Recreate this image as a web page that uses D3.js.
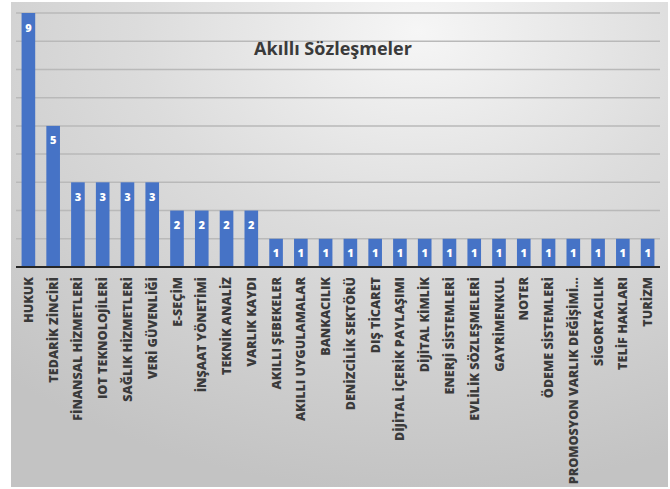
<!DOCTYPE html>
<html>
<head>
<meta charset="utf-8">
<script src="https://cdn.jsdelivr.net/npm/d3@7"></script>
<style>
  html, body { margin: 0; padding: 0; background: #ffffff; }
  svg { display: block; }
</style>
</head>
<body>
<svg id="chart" width="670" height="489"></svg>
<script>
// Sectors where smart contracts are applied, with publication counts
const categories = [
  "HUKUK", "TEDARİK ZİNCİRİ", "FİNANSAL HİZMETLERİ", "IOT TEKNOLOJİLERİ",
  "SAĞLIK HİZMETLERİ", "VERİ GÜVENLİĞİ", "E-SEÇİM", "İNŞAAT YÖNETİMİ",
  "TEKNİK ANALİZ", "VARLIK KAYDI", "AKILLI ŞEBEKELER", "AKILLI UYGULAMALAR",
  "BANKACILIK", "DENİZCİLİK SEKTÖRÜ", "DIŞ TİCARET", "DİJİTAL İÇERİK PAYLAŞIMI",
  "DİJİTAL KİMLİK", "ENERJİ SİSTEMLERİ", "EVLİLİK SÖZLEŞMELERİ", "GAYRİMENKUL",
  "NOTER", "ÖDEME SİSTEMLERİ", "PROMOSYON VARLIK DEĞİŞİMİ…", "SİGORTACILIK",
  "TELİF HAKLARI", "TURİZM"
];
const counts = [9, 5, 3, 3, 3, 3, 2, 2, 2, 2, 1, 1, 1, 1, 1, 1, 1, 1, 1, 1, 1, 1, 1, 1, 1, 1];
const gridTicks = [1, 2, 3, 4, 5, 6, 7, 8, 9];
const chartTitle = "Akıllı Sözleşmeler";

const svg = d3.select("#chart");
const FONT = "'Open Sans', 'DejaVu Sans', sans-serif";

// Chart area background: soft radial light-grey gradient
const defs = svg.append("defs");
const grad = defs.append("radialGradient")
  .attr("id", "bg").attr("cx", "62%").attr("cy", "6%").attr("r", "95%")
  .attr("gradientUnits", "objectBoundingBox");
grad.append("stop").attr("offset", "0%").attr("stop-color", "#f6f6f6");
grad.append("stop").attr("offset", "45%").attr("stop-color", "#dcdcdc");
grad.append("stop").attr("offset", "100%").attr("stop-color", "#c3c3c3");

svg.append("rect")
  .attr("x", 11).attr("y", 2).attr("width", 657).attr("height", 485)
  .attr("fill", "url(#bg)");

const plot = { left: 16, right: 660, top: 13, bottom: 267 };

const x = d3.scaleBand()
  .domain(categories)
  .range([plot.left, plot.right])
  .paddingInner(0.45)
  .paddingOuter(0.225);

const y = d3.scaleLinear()
  .domain([0, 9])
  .range([plot.bottom, plot.top]);

// Horizontal gridlines
svg.append("g")
  .selectAll("line")
  .data(gridTicks)
  .join("line")
  .attr("x1", plot.left).attr("x2", plot.right)
  .attr("y1", d => y(d)).attr("y2", d => y(d))
  .attr("stroke", "#b9b9b9")
  .attr("stroke-width", 1.5);

// Title
svg.append("text")
  .attr("x", 333).attr("y", 55)
  .attr("text-anchor", "middle")
  .attr("font-family", FONT)
  .attr("font-weight", 700)
  .attr("font-size", 18)
  .attr("fill", "#3a3a3a")
  .text(chartTitle);

const rows = categories.map((c, i) => ({ name: c, value: counts[i] }));

// Bars
svg.append("g")
  .selectAll("rect")
  .data(rows)
  .join("rect")
  .attr("x", d => x(d.name))
  .attr("y", d => y(d.value))
  .attr("width", x.bandwidth())
  .attr("height", d => y(0) - y(d.value))
  .attr("fill", "#4673c6");

// Value labels inside the bar tops
svg.append("g")
  .selectAll("text")
  .data(rows)
  .join("text")
  .attr("x", d => x(d.name) + x.bandwidth() / 2)
  .attr("y", d => y(d.value) + 18.5)
  .attr("text-anchor", "middle")
  .attr("font-family", FONT)
  .attr("font-weight", 800)
  .attr("font-size", 11)
  .attr("fill", "#ffffff")
  .text(d => d.value);

// Category axis
const xAxis = svg.append("g")
  .attr("transform", `translate(0,${plot.bottom})`)
  .call(d3.axisBottom(x).tickSize(0).tickSizeOuter(0));
xAxis.select(".domain")
  .attr("stroke", "#262626")
  .attr("stroke-width", 2)
  .attr("d", `M${plot.left},0H${plot.right}`);
xAxis.selectAll(".tick text")
  .attr("font-family", FONT)
  .attr("font-weight", 800)
  .attr("font-size", 12.6)
  .attr("fill", "#3a3a3a")
  .attr("text-anchor", "end")
  .attr("transform", "rotate(-90)")
  .attr("x", -10)
  .attr("y", 0)
  .attr("dy", "0.36em");
</script>
</body>
</html>
